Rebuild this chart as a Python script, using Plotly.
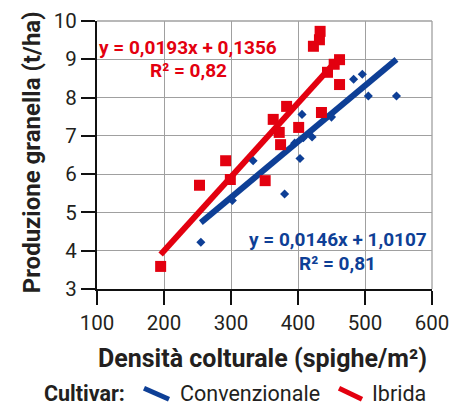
import plotly.graph_objects as go

# ---- data ----
conv_name = "Convenzionale"
conv_x = [255, 302, 333, 380, 395, 403, 406, 408, 421, 450, 483, 496, 505, 547]
conv_y = [4.22, 5.31, 6.35, 5.48, 6.81, 6.41, 7.56, 6.95, 6.97, 7.49, 8.48, 8.61, 8.04, 8.04]
conv_slope, conv_intercept = 0.0146, 1.0107
conv_eq = "y = 0,0146x + 1,0107"
conv_r2 = "R² = 0,81"

ibr_name = "Ibrida"
ibr_x = [195, 253, 299, 292, 351, 363, 372, 374, 383, 401, 423, 432, 433, 435, 444, 454, 462, 462]
ibr_y = [3.59, 5.71, 5.86, 6.35, 5.83, 7.43, 7.09, 6.77, 7.77, 7.22, 9.34, 9.51, 9.73, 7.61, 8.66, 8.87, 8.99, 8.34]
ibr_slope, ibr_intercept = 0.0193, 0.1356
ibr_eq = "y = 0,0193x + 0,1356"
ibr_r2 = "R² = 0,82"

x_ticks = [100, 200, 300, 400, 500, 600]
y_ticks = [3, 4, 5, 6, 7, 8, 9, 10]
x_title = "Densità colturale (spighe/m²)"
y_title = "Produzione granella (t/ha)"
legend_title = "Cultivar:"

BLUE = "#0E3F96"
RED = "#E3000F"
TXT = "#231F20"
GRID = "#A0A0A0"
FONT = "Roboto, Liberation Sans, sans-serif"

fig = go.Figure()

# trendlines from the equations
for xs, a, b, col in [(conv_x, conv_slope, conv_intercept, BLUE),
                      (ibr_x, ibr_slope, ibr_intercept, RED)]:
    x0, x1 = min(xs), max(xs)
    fig.add_trace(go.Scatter(x=[x0, x1], y=[a * x0 + b, a * x1 + b], mode="lines",
                             line=dict(color=col, width=6), showlegend=False,
                             hoverinfo="skip"))

fig.add_trace(go.Scatter(x=conv_x, y=conv_y, mode="markers", name=conv_name,
                         marker=dict(symbol="diamond", size=7, color=BLUE),
                         showlegend=False))
fig.add_trace(go.Scatter(x=ibr_x, y=ibr_y, mode="markers", name=ibr_name,
                         marker=dict(symbol="square", size=11, color=RED),
                         showlegend=False))

# plot-area geometry in screen px (page body has an 8px margin)
OFF = 8
L, R, T, B = 97, 432, 20.7, 288.7
W, H = R - L, B - T
def px(xp):
    return (xp - L) / W
def py(yp):
    return (B - yp) / H

ann = []
# equations
for txt, xp, yp, col in [(ibr_eq, 188, 47.3, RED), (ibr_r2, 188, 70.7, RED),
                         (conv_eq, 337.5, 239.3, BLUE), (conv_r2, 337.5, 262.7, BLUE)]:
    ann.append(dict(text=txt, x=px(xp), y=py(yp), xref="paper", yref="paper",
                    xanchor="center", yanchor="middle", showarrow=False,
                    font=dict(family=FONT, size=19, color=col, weight="bold")))
# axis titles
ann.append(dict(text=x_title, x=px(262), y=py(358), xref="paper", yref="paper",
                xanchor="center", yanchor="middle", showarrow=False,
                font=dict(family=FONT, size=25, color=TXT, weight="bold")))
ann.append(dict(text=y_title, x=px(32), y=py(152), xref="paper", yref="paper",
                xanchor="center", yanchor="middle", showarrow=False, textangle=-90,
                font=dict(family=FONT, size=24, color=TXT, weight="bold")))
# legend
ann.append(dict(text=legend_title, x=px(127), y=py(393), xref="paper", yref="paper",
                xanchor="right", yanchor="middle", showarrow=False,
                font=dict(family=FONT, size=21.5, color=TXT, weight="bold")))
ann.append(dict(text=conv_name, x=px(178), y=py(393), xref="paper", yref="paper",
                xanchor="left", yanchor="middle", showarrow=False,
                font=dict(family=FONT, size=21.5, color=TXT)))
ann.append(dict(text=ibr_name, x=px(370), y=py(393), xref="paper", yref="paper",
                xanchor="left", yanchor="middle", showarrow=False,
                font=dict(family=FONT, size=21.5, color=TXT)))

shapes = [
    dict(type="line", xref="paper", yref="paper", x0=px(144), y0=py(388), x1=px(169), y1=py(399),
         line=dict(color=BLUE, width=5)),
    dict(type="line", xref="paper", yref="paper", x0=px(339), y0=py(388), x1=px(362), y1=py(399),
         line=dict(color=RED, width=5)),
    dict(type="line", xref="paper", yref="paper", x0=1, y0=0, x1=1, y1=1,
         line=dict(color=GRID, width=1.3), layer="below"),
    dict(type="line", xref="paper", yref="paper", x0=0, y0=1, x1=1, y1=1,
         line=dict(color=GRID, width=1.3), layer="below"),
]

fig.update_layout(
    template="none",
    width=460, height=406,
    margin=dict(l=L - OFF, r=460 + OFF - R, t=T - OFF, b=406 + OFF - B, pad=0),
    paper_bgcolor="white", plot_bgcolor="white",
    annotations=ann, shapes=shapes, showlegend=False,
    font=dict(family=FONT, color=TXT),
)
axis_common = dict(showgrid=True, gridcolor=GRID, gridwidth=1.3,
                   showline=True, linecolor="#111", linewidth=2,
                   ticks="outside", ticklen=14, tickwidth=1.5, tickcolor="#111",
                   tickfont=dict(family=FONT, size=20.5, color=TXT), zeroline=False,
                   automargin=False)
fig.update_xaxes(range=[100, 600], tickvals=x_ticks, ticktext=[str(v) for v in x_ticks],
                 **axis_common)
fig.update_yaxes(range=[3, 10], tickvals=y_ticks, ticktext=[str(v) for v in y_ticks],
                 **axis_common)

fig.write_html("out.html")
